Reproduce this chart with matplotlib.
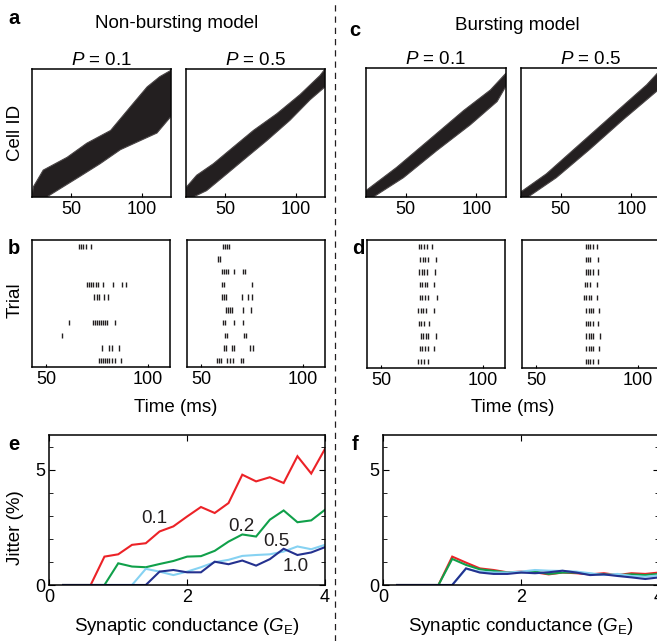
import matplotlib
matplotlib.use("Agg")
import matplotlib.pyplot as plt
from matplotlib.ticker import MultipleLocator

plt.rcParams["font.family"] = ["Liberation Sans", "DejaVu Sans"]
plt.rcParams["mathtext.fontset"] = "custom"
plt.rcParams["mathtext.rm"] = "Liberation Sans"
plt.rcParams["mathtext.it"] = "Liberation Sans:italic"
plt.rcParams["axes.linewidth"] = 1.1

W, H = 657, 641
FS = 13

# ---- panel a / c: sequence bands (time ms, cell fraction)
a1_upper = [(22, 0.0), (23, 0.08), (30, 0.21), (47, 0.31), (61, 0.42), (78, 0.52),
            (94, 0.73), (104, 0.86), (113, 0.94), (121, 0.99)]
a1_lower = [(32.5, 0.0), (42, 0.065), (56, 0.16), (70.5, 0.26), (85, 0.37),
            (99, 0.44), (111, 0.50), (121, 0.63)]
a2_upper = [(22, 0.0), (22.5, 0.08), (29.6, 0.17), (41.5, 0.26), (55.7, 0.39),
            (70, 0.52), (86.6, 0.65), (103.2, 0.80), (117.5, 0.95), (121, 1.0)]
a2_lower = [(27.2, 0.0), (36.7, 0.05), (51, 0.18), (65.2, 0.31), (79.5, 0.44),
            (96.1, 0.60), (110.4, 0.76), (121, 0.86)]
c1_upper = [(22, 0.0), (22, 0.05), (43.7, 0.23), (67.4, 0.45), (91, 0.67),
            (110, 0.83), (121, 0.96)]
c1_lower = [(27.2, 0.0), (48.5, 0.15), (72.1, 0.36), (95.8, 0.56), (114.7, 0.74),
            (121, 0.86)]
c2_upper = [(22, 0.0), (22, 0.04), (40, 0.18), (63.6, 0.41), (87.2, 0.64),
            (110.9, 0.87), (121, 0.99)]
c2_lower = [(27, 0.0), (47, 0.15), (70.7, 0.37), (94.3, 0.60), (118, 0.82),
            (121, 0.85)]

# ---- panel b / d: spike times (ms) for 10 trials
b1_spikes = [
    [66.2, 67.2, 68.3, 69.6, 71.9],
    [],
    [],
    [70.3, 71.2, 72.2, 73.2, 74.5, 75.7, 78.1, 82.7, 87.2, 89.3],
    [73.5, 74.9, 76.2, 78.5, 80.6],
    [],
    [61.2, 72.9, 73.9, 74.9, 75.8, 76.8, 77.8, 78.8, 80.1, 83.9],
    [58.0],
    [77.6, 80.8, 82.3, 86.0],
    [76.0, 77.0, 78.0, 79.0, 79.9, 80.9, 82.2, 83.9, 86.7],
]
b2_spikes = [
    [60.6, 61.6, 62.6, 63.9],
    [58.3, 59.3],
    [60.1, 61.1, 62.0, 63.4, 66.3, 70.4, 71.7],
    [60.1, 61.1, 74.9],
    [60.1, 61.1, 62.2, 69.9, 73.2, 75.2],
    [62.2, 63.2, 64.2, 65.3, 70.4, 74.4],
    [60.6, 61.6, 66.2, 70.4],
    [61.6, 62.6, 71.1, 71.9],
    [61.2, 62.2, 65.0, 66.0, 74.0, 75.3],
    [58.0, 58.9, 59.9, 62.9, 64.2, 65.8, 69.4, 70.8],
]
d1_spikes = [
    [68.4, 69.7, 71.0, 72.4, 74.8],
    [69.2, 70.5, 71.8, 73.2, 76.9],
    [68.7, 70.0, 71.3, 72.6, 76.6],
    [68.9, 70.2, 71.5, 72.8, 75.8],
    [69.0, 70.3, 71.6, 73.0, 77.3],
    [68.1, 69.4, 70.7, 72.0, 76.2],
    [68.4, 69.8, 71.2, 73.6],
    [69.4, 70.7, 72.0, 73.3, 77.0],
    [69.0, 70.3, 71.6, 72.9, 75.9],
    [68.1, 69.5, 70.9, 73.3],
]
d2_spikes = [
    [74.3, 75.5, 76.7, 77.9, 79.8],
    [74.3, 75.5, 76.7, 80.6],
    [74.3, 75.5, 76.7, 78.0, 80.6],
    [74.0, 75.2, 76.4, 80.0],
    [73.5, 74.7, 75.9, 77.1, 80.0],
    [74.6, 75.8, 77.0, 78.2, 81.0],
    [74.3, 75.5, 76.7, 77.9, 80.4],
    [74.6, 75.8, 77.0, 78.2, 81.3],
    [74.6, 75.8, 77.0, 78.2, 80.8],
    [74.3, 75.5, 76.7, 77.9, 80.4],
]

# ---- panel e / f: jitter vs synaptic conductance
ge = [0.2, 0.4, 0.6, 0.8, 1.0, 1.2, 1.4, 1.6, 1.8, 2.0,
      2.2, 2.4, 2.6, 2.8, 3.0, 3.2, 3.4, 3.6, 3.8, 4.0]
p_labels = ["0.1", "0.2", "0.5", "1.0"]
e_jitter = {
    "0.1": [0, 0, 0, 1.23, 1.33, 1.74, 1.81, 2.32, 2.54, 2.97,
            3.38, 3.12, 3.55, 4.78, 4.49, 4.67, 4.42, 5.58, 4.83, 5.90],
    "0.2": [0, 0, 0, 0, 0.94, 0.80, 0.77, 0.91, 1.04, 1.23,
            1.25, 1.48, 1.88, 2.19, 2.10, 2.83, 3.23, 2.72, 2.80, 3.26],
    "0.5": [0, 0, 0, 0, 0, 0, 0.70, 0.58, 0.43, 0.58,
            0.77, 0.99, 1.09, 1.26, 1.30, 1.33, 1.45, 1.67, 1.55, 1.74],
    "1.0": [0, 0, 0, 0, 0, 0, 0, 0.58, 0.65, 0.55,
            0.55, 1.01, 0.90, 1.06, 0.84, 1.12, 1.57, 1.30, 1.41, 1.64],
}
f_jitter = {
    "0.1": [0, 0, 0, 0, 1.23, 0.97, 0.72, 0.65, 0.55, 0.58,
            0.55, 0.46, 0.54, 0.51, 0.46, 0.51, 0.43, 0.51, 0.48, 0.54],
    "0.2": [0, 0, 0, 0, 1.13, 0.87, 0.68, 0.61, 0.54, 0.55,
            0.58, 0.48, 0.54, 0.54, 0.48, 0.46, 0.43, 0.46, 0.43, 0.48],
    "0.5": [0, 0, 0, 0, 0, 0.70, 0.58, 0.54, 0.54, 0.58,
            0.65, 0.62, 0.61, 0.58, 0.51, 0.43, 0.48, 0.39, 0.36, 0.42],
    "1.0": [0, 0, 0, 0, 0, 0.72, 0.54, 0.48, 0.48, 0.54,
            0.51, 0.55, 0.62, 0.54, 0.43, 0.46, 0.39, 0.33, 0.26, 0.33],
}
line_colors = {"0.1": "#ec2227", "0.2": "#10a04a", "0.5": "#86d2f2", "1.0": "#24318f"}
label_pos = {"0.1": (1.53, 2.9), "0.2": (2.79, 2.53), "0.5": (3.30, 1.88), "1.0": (3.57, 0.80)}

fig = plt.figure(figsize=(W / 100, H / 100), dpi=100)


def px_axes(x0, y0, x1, y1):
    return fig.add_axes([x0 / W, 1 - y1 / H, (x1 - x0) / W, (y1 - y0) / H])


def band_axes(ax, upper, lower):
    poly_x = [p[0] for p in upper] + [p[0] for p in lower[::-1]]
    poly_y = [p[1] for p in upper] + [p[1] for p in lower[::-1]]
    ax.fill(poly_x, poly_y, color="#231f20", lw=0.8, ec="#4a4546")
    ax.set_xlim(22, 121)
    ax.set_ylim(0, 1)
    ax.set_xticks([50, 100])
    ax.set_yticks([])
    ax.tick_params(axis="x", direction="in", length=3, labelsize=FS, pad=3)


def raster_axes(ax, spikes):
    ax.eventplot(spikes, lineoffsets=range(1, 11), linelengths=0.42,
                 linewidths=1.0, colors="#231f20")
    ax.set_xlim(43, 111)
    ax.set_ylim(10.5, 0.5)
    ax.set_xticks([50, 100])
    ax.set_yticks([])
    ax.tick_params(axis="x", direction="in", length=2, labelsize=FS, pad=3)


def jitter_axes(ax, data):
    for p in p_labels:
        ax.plot(ge, data[p], color=line_colors[p], lw=1.5, solid_joinstyle="miter")
    ax.set_xlim(0, 4)
    ax.set_ylim(0, 6.5)
    ax.set_xticks([0, 2, 4])
    ax.set_yticks([0, 5])
    ax.yaxis.set_minor_locator(MultipleLocator(1))
    ax.tick_params(axis="both", which="both", direction="in", labelsize=FS,
                   right=True, top=True)
    ax.tick_params(axis="both", which="major", length=4, pad=3)
    ax.tick_params(axis="y", which="minor", length=3)
    ax.set_xlabel("Synaptic conductance ($G_\\mathrm{E}$)", fontsize=FS + 0.5, labelpad=7)


# a
ax = px_axes(32, 69, 171, 197)
band_axes(ax, a1_upper, a1_lower)
ax.set_title("$P$ = 0.1", fontsize=FS + 0.5, pad=3)
ax = px_axes(186, 69, 325, 197)
band_axes(ax, a2_upper, a2_lower)
ax.set_title("$P$ = 0.5", fontsize=FS + 0.5, pad=3)
# c
ax = px_axes(366, 68, 506, 197)
band_axes(ax, c1_upper, c1_lower)
ax.set_title("$P$ = 0.1", fontsize=FS + 0.5, pad=3)
ax = px_axes(521, 68, 661, 197)
band_axes(ax, c2_upper, c2_lower)
ax.set_title("$P$ = 0.5", fontsize=FS + 0.5, pad=3)

# b, d
raster_axes(px_axes(32, 240, 170, 367), b1_spikes)
raster_axes(px_axes(187, 240, 325, 367), b2_spikes)
raster_axes(px_axes(367, 240, 505, 368), d1_spikes)
raster_axes(px_axes(522, 240, 660, 368), d2_spikes)

# e
ax = px_axes(49.3, 435, 325, 585)
jitter_axes(ax, e_jitter)
for p in p_labels:
    ax.text(*label_pos[p], p, fontsize=FS + 0.5, ha="center", va="center", color="#231f20")
# f
ax = px_axes(383.3, 435, 659, 585)
jitter_axes(ax, f_jitter)


# figure-level labels
def ftext(x, y, s, **kw):
    fig.text(x / W, 1 - y / H, s, ha="center", va="center", **kw)


ftext(14, 18, "a", fontsize=14.5, fontweight="bold")
ftext(355, 30, "c", fontsize=14.5, fontweight="bold")
ftext(14, 249, "b", fontsize=14.5, fontweight="bold")
ftext(358, 249, "d", fontsize=14.5, fontweight="bold")
ftext(14, 445, "e", fontsize=14.5, fontweight="bold")
ftext(355, 445, "f", fontsize=14.5, fontweight="bold")
ftext(177, 24, "Non-bursting model", fontsize=FS + 0.5)
ftext(517, 26, "Bursting model", fontsize=FS + 0.5)
ftext(15, 133, "Cell ID", fontsize=FS + 0.5, rotation=90)
ftext(15, 300, "Trial", fontsize=FS + 0.5, rotation=90)
ftext(15, 528, "Jitter (%)", fontsize=FS + 0.5, rotation=90)
ftext(176, 408, "Time (ms)", fontsize=FS + 0.5)
ftext(513, 408, "Time (ms)", fontsize=FS + 0.5)

fig.add_artist(plt.Line2D([335 / W, 335 / W], [0, 1 - 4 / H], transform=fig.transFigure,
                          color="#231f20", lw=0.9, ls=(0, (5, 4))))

fig.savefig("out.png", dpi=100)
